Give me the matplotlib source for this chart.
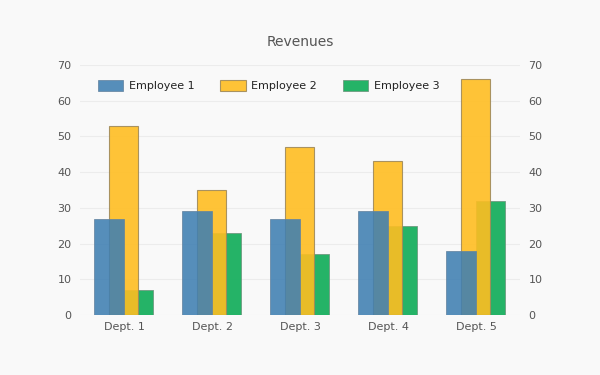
import numpy as np
import matplotlib
matplotlib.use('Agg')
from matplotlib import pyplot as plt

depts = ['Dept. 1', 'Dept. 2', 'Dept. 3', 'Dept. 4', 'Dept. 5']
employee1 = [27, 29, 27, 29, 18]
employee2 = [53, 35, 47, 43, 66]
employee3 = [7, 23, 17, 25, 32]

BG = '#f9f9f9'
TXT = '#555555'

fig = plt.figure(figsize=(6, 3.75), dpi=100, facecolor=BG)
ax = fig.add_axes([80/600, 60/375, 440/600, 250/375], facecolor=BG)

x = np.arange(len(depts))
# overlapping bars, drawn green -> yellow -> blue
ax.bar(x, employee3, width=0.33, align='edge', color='#20b264',
       alpha=0.98, edgecolor='#6f9a80', linewidth=0.6, label='Employee 3', zorder=2)
ax.bar(x - 0.17, employee2, width=0.33, align='edge', color='#ffbe22',
       alpha=0.9, edgecolor='#a08a5a', linewidth=0.8, label='Employee 2', zorder=3)
ax.bar(x - 0.34, employee1, width=0.34, align='edge', color='#3f7fb2',
       alpha=0.88, edgecolor='#62839f', linewidth=0.6, label='Employee 1', zorder=4)

ax.set_xlim(-0.5, len(depts) - 0.5)
ax.set_ylim(0, 70)
ax.set_yticks(range(0, 71, 10))
ax.set_xticks(x)
ax.set_xticklabels(depts)
ax.grid(axis='y', color='#ececec', linewidth=0.8, zorder=0)
ax.set_axisbelow(True)
for s in ax.spines.values():
    s.set_visible(False)
ax.tick_params(length=0, labelsize=8, labelcolor=TXT, pad=6)
ax.tick_params(axis='x', pad=5)

ax2 = ax.twinx()
ax2.set_ylim(0, 70)
ax2.set_yticks(range(0, 71, 10))
for s in ax2.spines.values():
    s.set_visible(False)
ax2.tick_params(length=0, labelsize=8, labelcolor=TXT, pad=6)

handles, labels = ax.get_legend_handles_labels()
leg = ax.legend(handles[::-1], labels[::-1], ncol=3, loc='upper left',
                bbox_to_anchor=(0.018, 0.98), frameon=False, fontsize=8,
                handlelength=2.3, handleheight=1.2, handletextpad=0.5,
                columnspacing=2.3)
for t in leg.get_texts():
    t.set_color('#222222')

fig.suptitle('Revenues', y=1 - 42/375, va='center', fontsize=10, color=TXT)

fig.savefig('out.png', dpi=100, facecolor=BG)
